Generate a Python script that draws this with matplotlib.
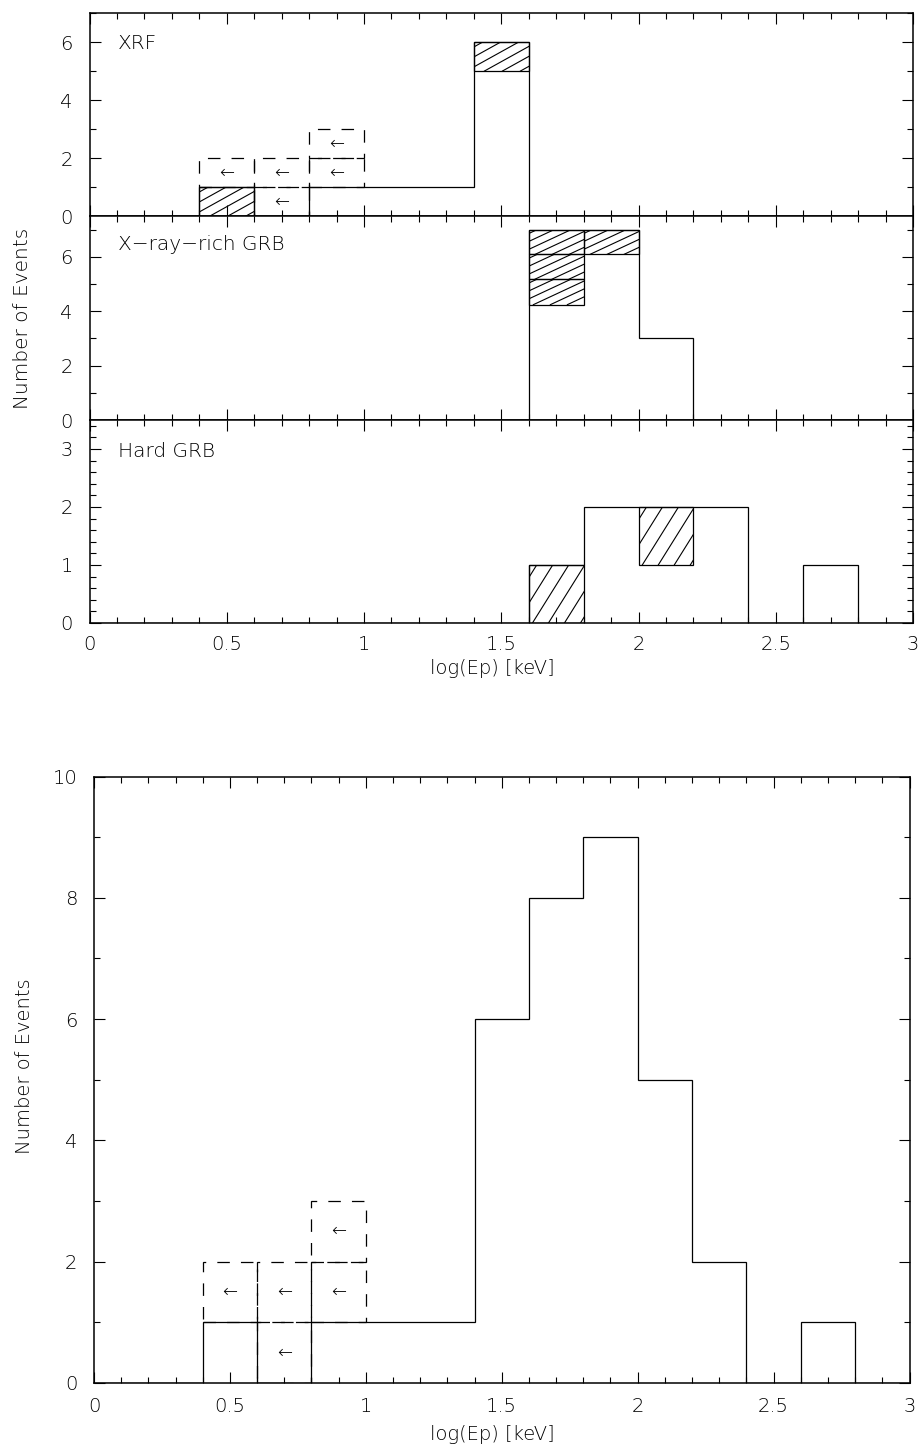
import numpy as np
import matplotlib
matplotlib.use("Agg")
import matplotlib.pyplot as plt
from matplotlib.patches import Rectangle
from matplotlib.lines import Line2D
from matplotlib.ticker import MultipleLocator, FuncFormatter

plt.rcParams['font.family'] = ['DejaVu Sans']
plt.rcParams['font.weight'] = 'light'
plt.rcParams['lines.scale_dashes'] = False

# ---------------- data ----------------
bin_edges = [0.0, 0.2, 0.4, 0.6, 0.8, 1.0, 1.2, 1.4, 1.6, 1.8, 2.0, 2.2, 2.4, 2.6, 2.8, 3.0]
bin_width = 0.2

xrf_counts = [0, 0, 1, 0, 1, 1, 1, 6, 0, 0, 0, 0, 0, 0, 0]
xrr_counts = [0, 0, 0, 0, 0, 0, 0, 0, 7, 7, 3, 0, 0, 0, 0]
hard_counts = [0, 0, 0, 0, 0, 0, 0, 0, 1, 2, 2, 2, 0, 1, 0]
all_counts = [0, 0, 1, 0, 1, 1, 1, 6, 8, 9, 5, 2, 0, 1, 0]

xrf_hatch_left = [0.4, 1.4]
xrf_hatch_bottom = [0, 5]
xrf_hatch_top = [1, 6]

xrr_hatch_left = [1.6, 1.6, 1.6, 1.8]
xrr_hatch_bottom = [4.24, 5.18, 6.09, 6.09]
xrr_hatch_top = [5.18, 6.09, 7.0, 7.0]

hard_hatch_left = [1.6, 2.0]
hard_hatch_bottom = [0, 1]
hard_hatch_top = [1, 2]

# upper-limit events (dashed boxes with arrows), each one event high
ul_left = [0.4, 0.6, 0.6, 0.8, 0.8]
ul_bottom = [1, 0, 1, 1, 2]

panel_names = ["XRF", "X\u2212ray\u2212rich GRB", "Hard GRB"]
xlabel = "log(Ep) [keV]"
ylabel = "Number of Events"

# ---------------- figure ----------------
W, H = 921, 1447
fig = plt.figure(figsize=(W / 100, H / 100), dpi=100)

def px_axes(l, r, t, b):
    return fig.add_axes([l / W, 1 - b / H, (r - l) / W, (b - t) / H])

FS = 14
fmt = FuncFormatter(lambda v, p: ("%g" % v))

def style(ax, ymaj, ymin, xlabels=True):
    ax.set_xlim(0, 3)
    ax.xaxis.set_major_locator(MultipleLocator(0.5))
    ax.xaxis.set_minor_locator(MultipleLocator(0.1))
    ax.yaxis.set_major_locator(MultipleLocator(ymaj))
    ax.yaxis.set_minor_locator(MultipleLocator(ymin))
    ax.xaxis.set_major_formatter(fmt)
    ax.yaxis.set_major_formatter(fmt)
    ax.tick_params(which='both', direction='in', top=True, right=True, width=0.8, colors='k')
    ax.tick_params(which='major', length=8)
    ax.tick_params(which='minor', length=4.5)
    ax.tick_params(axis='y', which='major', pad=12, labelsize=FS)
    ax.tick_params(axis='x', which='major', pad=9, labelsize=FS, labelbottom=xlabels)
    for s in ax.spines.values():
        s.set_linewidth(1.1)

def hatch_box(ax, x0, y0, x1, y1, angle_deg, hstep):
    rect = Rectangle((x0, y0), x1 - x0, y1 - y0, fill=False, edgecolor='k', lw=0.9, zorder=4)
    ax.add_patch(rect)
    (X0, Y0) = ax.transData.transform((x0, y0))
    (X1, Y1) = ax.transData.transform((x1, y1))
    t = np.tan(np.radians(angle_deg))
    run = (Y1 - Y0) / t
    inv = ax.transData.inverted()
    c = X0 - run + hstep * 0.5
    while c < X1:
        p0 = inv.transform((c, Y0))
        p1 = inv.transform((c + run, Y1))
        ln = Line2D([p0[0], p1[0]], [p0[1], p1[1]], color='k', lw=0.8, zorder=3)
        ax.add_line(ln)
        ln.set_clip_path(rect)
        c += hstep

def upper_limits(ax, arrow_fs):
    for xl, yb in zip(ul_left, ul_bottom):
        r = Rectangle((xl, yb), bin_width, 1, fill=False, edgecolor='k', lw=0.9,
                      linestyle=(0, (9, 8)), zorder=2)
        ax.add_patch(r)
        ax.text(xl + bin_width / 2, yb + 0.5, "\u2190", ha='center', va='center',
                fontsize=arrow_fs, zorder=5)

# --- top stacked panels ---
L, R = 89.5, 913
ax1 = px_axes(L, R, 13, 216)
ax2 = px_axes(L, R, 216, 420)
ax3 = px_axes(L, R, 420, 623)

ax1.set_ylim(0, 7)
ax2.set_ylim(0, 7.5)
ax3.set_ylim(0, 3.5)
style(ax1, 2, 1, xlabels=False)
style(ax2, 2, 1, xlabels=False)
style(ax3, 1, 0.2, xlabels=True)

# XRF
upper_limits(ax1, 13)
ax1.stairs(xrf_counts, bin_edges, color='k', lw=0.9, baseline=0, zorder=4)
for xl, yb, yt in zip(xrf_hatch_left, xrf_hatch_bottom, xrf_hatch_top):
    hatch_box(ax1, xl, yb, xl + bin_width, yt, 29, 18)

# X-ray-rich
ax2.stairs(xrr_counts, bin_edges, color='k', lw=0.9, baseline=0, zorder=4)
for xl, yb, yt in zip(xrr_hatch_left, xrr_hatch_bottom, xrr_hatch_top):
    hatch_box(ax2, xl, yb, xl + bin_width, yt, 25, 17)

# Hard
ax3.stairs(hard_counts, bin_edges, color='k', lw=0.9, baseline=0, zorder=4)
for xl, yb, yt in zip(hard_hatch_left, hard_hatch_bottom, hard_hatch_top):
    hatch_box(ax3, xl, yb, xl + bin_width, yt, 58, 16)

for ax, name, yy in zip([ax1, ax2, ax3], panel_names, [0.852, 0.858, 0.847]):
    ax.text(0.0346, yy, name, transform=ax.transAxes, ha='left', va='center', fontsize=FS + 0.5)

fig.text(492 / W, 1 - 668 / H, xlabel, ha='center', va='center', fontsize=FS)
fig.text(23 / W, 1 - 318 / H, ylabel, ha='center', va='center', rotation=90, fontsize=FS + 0.5)

# --- bottom total panel ---
ax4 = px_axes(94, 909.5, 776.5, 1383)
ax4.set_ylim(0, 10)
style(ax4, 2, 1, xlabels=True)
ax4.tick_params(axis='x', which='major', pad=10)
upper_limits(ax4, 13)
ax4.stairs(all_counts, bin_edges, color='k', lw=0.9, baseline=0, zorder=4)

fig.text(492 / W, 1 - 1434 / H, xlabel, ha='center', va='center', fontsize=FS)
fig.text(25 / W, 1 - 1066 / H, ylabel, ha='center', va='center', rotation=90, fontsize=FS)

fig.savefig("out.png", dpi=100)
